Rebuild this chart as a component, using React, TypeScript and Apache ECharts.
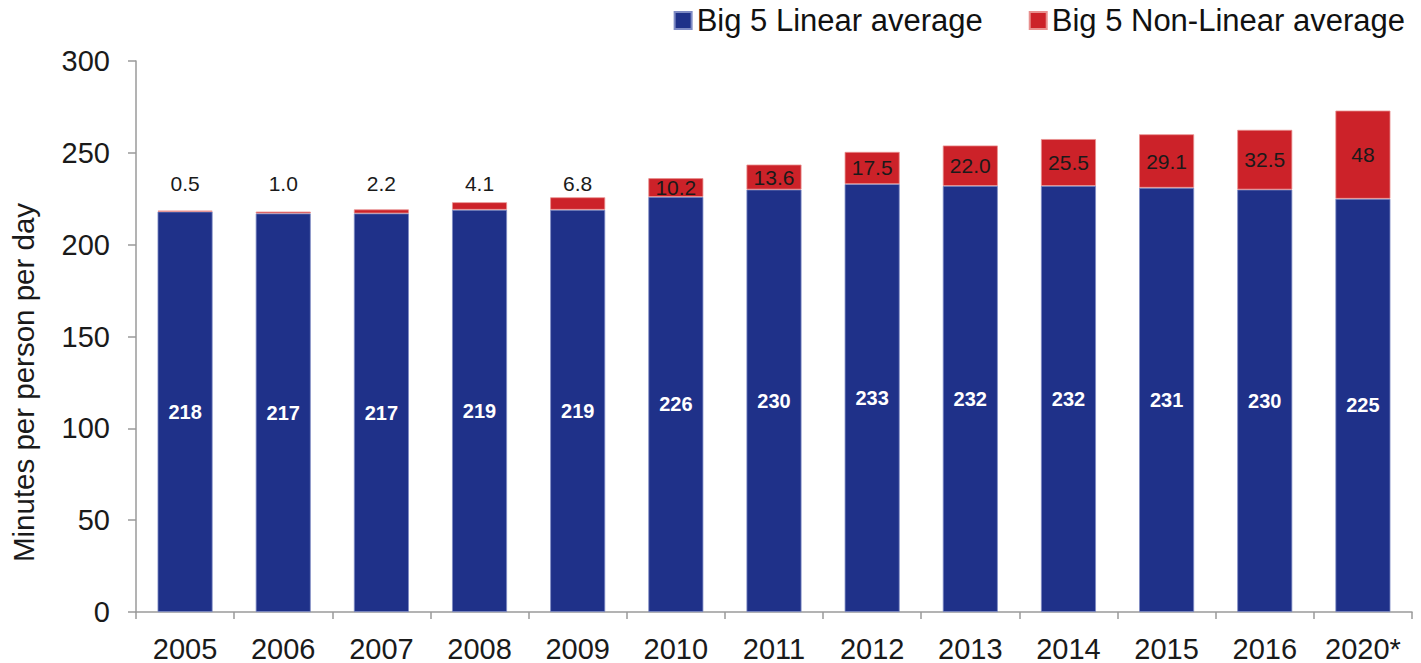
import React, { useEffect, useRef } from "react";
import * as echarts from "echarts";

const categories = ["2005", "2006", "2007", "2008", "2009", "2010", "2011", "2012", "2013", "2014", "2015", "2016", "2020*"];
const linearValues = [218, 217, 217, 219, 219, 226, 230, 233, 232, 232, 231, 230, 225];
const nonLinearValues = [0.5, 1.0, 2.2, 4.1, 6.8, 10.2, 13.6, 17.5, 22.0, 25.5, 29.1, 32.5, 48];
const nonLinearLabels = ["0.5", "1.0", "2.2", "4.1", "6.8", "10.2", "13.6", "17.5", "22.0", "25.5", "29.1", "32.5", "48"];
const yTicks = { min: 0, max: 300, interval: 50 };

const FONT = '"Liberation Sans", Arial, Helvetica, sans-serif';
const BLUE = "#1f3189";
const RED = "#cc2229";

export default function App() {
  const ref = useRef<HTMLDivElement>(null);

  useEffect(() => {
    if (!ref.current) return;
    const chart = echarts.init(ref.current, null, { renderer: "svg" });
    const gridTop = 61;
    const gridBottom = 51;
    const plotH = 663 - gridTop - gridBottom;
    const pxPerUnit = plotH / (yTicks.max - yTicks.min);
    const labelLevel = 233;

    const redData = nonLinearValues.map((v, i) => {
      const total = v + linearValues[i];
      if (v < 10) {
        return {
          value: v,
          label: {
            position: "top",
            distance: Math.max(2, (labelLevel - total) * pxPerUnit - 10),
          },
        };
      }
      return { value: v, label: { position: "inside" } };
    });

    chart.setOption({
      animation: false,
      textStyle: { fontFamily: FONT },
      legend: {
        right: 16,
        top: 5,
        padding: 0,
        itemWidth: 17,
        itemHeight: 17,
        itemGap: 46,
        icon: "rect",
        textStyle: { fontSize: 31, color: "#111", fontFamily: FONT },
        data: ["Big 5 Linear average", "Big 5 Non-Linear average"],
      },
      grid: { left: 135, right: 9, top: gridTop, bottom: gridBottom, containLabel: false },
      xAxis: {
        type: "category",
        data: categories,
        axisLine: { lineStyle: { color: "#9a9a9a", width: 1.5 } },
        axisTick: { show: true, length: 7, lineStyle: { color: "#9a9a9a", width: 1.5 } },
        axisLabel: { interval: 0, fontSize: 29, color: "#1a1a1a", margin: 22, fontFamily: FONT },
      },
      yAxis: {
        type: "value",
        min: yTicks.min,
        max: yTicks.max,
        interval: yTicks.interval,
        name: "Minutes per person per day",
        nameLocation: "middle",
        nameGap: 98,
        nameTextStyle: { fontSize: 29.5, color: "#1a1a1a", fontFamily: FONT, padding: [0, 92, 0, 0] },
        axisLine: { show: true, lineStyle: { color: "#9a9a9a", width: 1.5 } },
        axisTick: { show: true, length: 8, lineStyle: { color: "#9a9a9a", width: 1.5 } },
        splitLine: { show: false },
        axisLabel: { fontSize: 29, color: "#1a1a1a", margin: 26, fontFamily: FONT },
      },
      series: [
        {
          name: "Big 5 Linear average",
          type: "bar",
          stack: "total",
          barWidth: 55,
          data: linearValues,
          itemStyle: { color: BLUE, borderColor: "#7f8bc4", borderWidth: 0.8 },
          label: {
            show: true,
            position: "inside",
            color: "#fff",
            fontSize: 20,
            fontWeight: "bold",
            fontFamily: FONT,
          },
        },
        {
          name: "Big 5 Non-Linear average",
          type: "bar",
          stack: "total",
          barWidth: 55,
          data: redData,
          itemStyle: { color: RED, borderColor: "#e8908f", borderWidth: 0.8 },
          label: {
            show: true,
            color: "#1a1a1a",
            fontSize: 21,
            fontFamily: FONT,
            formatter: (p: any) => nonLinearLabels[p.dataIndex],
          },
        },
      ],
    });
    return () => chart.dispose();
  }, []);

  return <div ref={ref} style={{ position: "fixed", left: 0, top: 0, width: 1421, height: 663, background: "#fff" }} />;
}
